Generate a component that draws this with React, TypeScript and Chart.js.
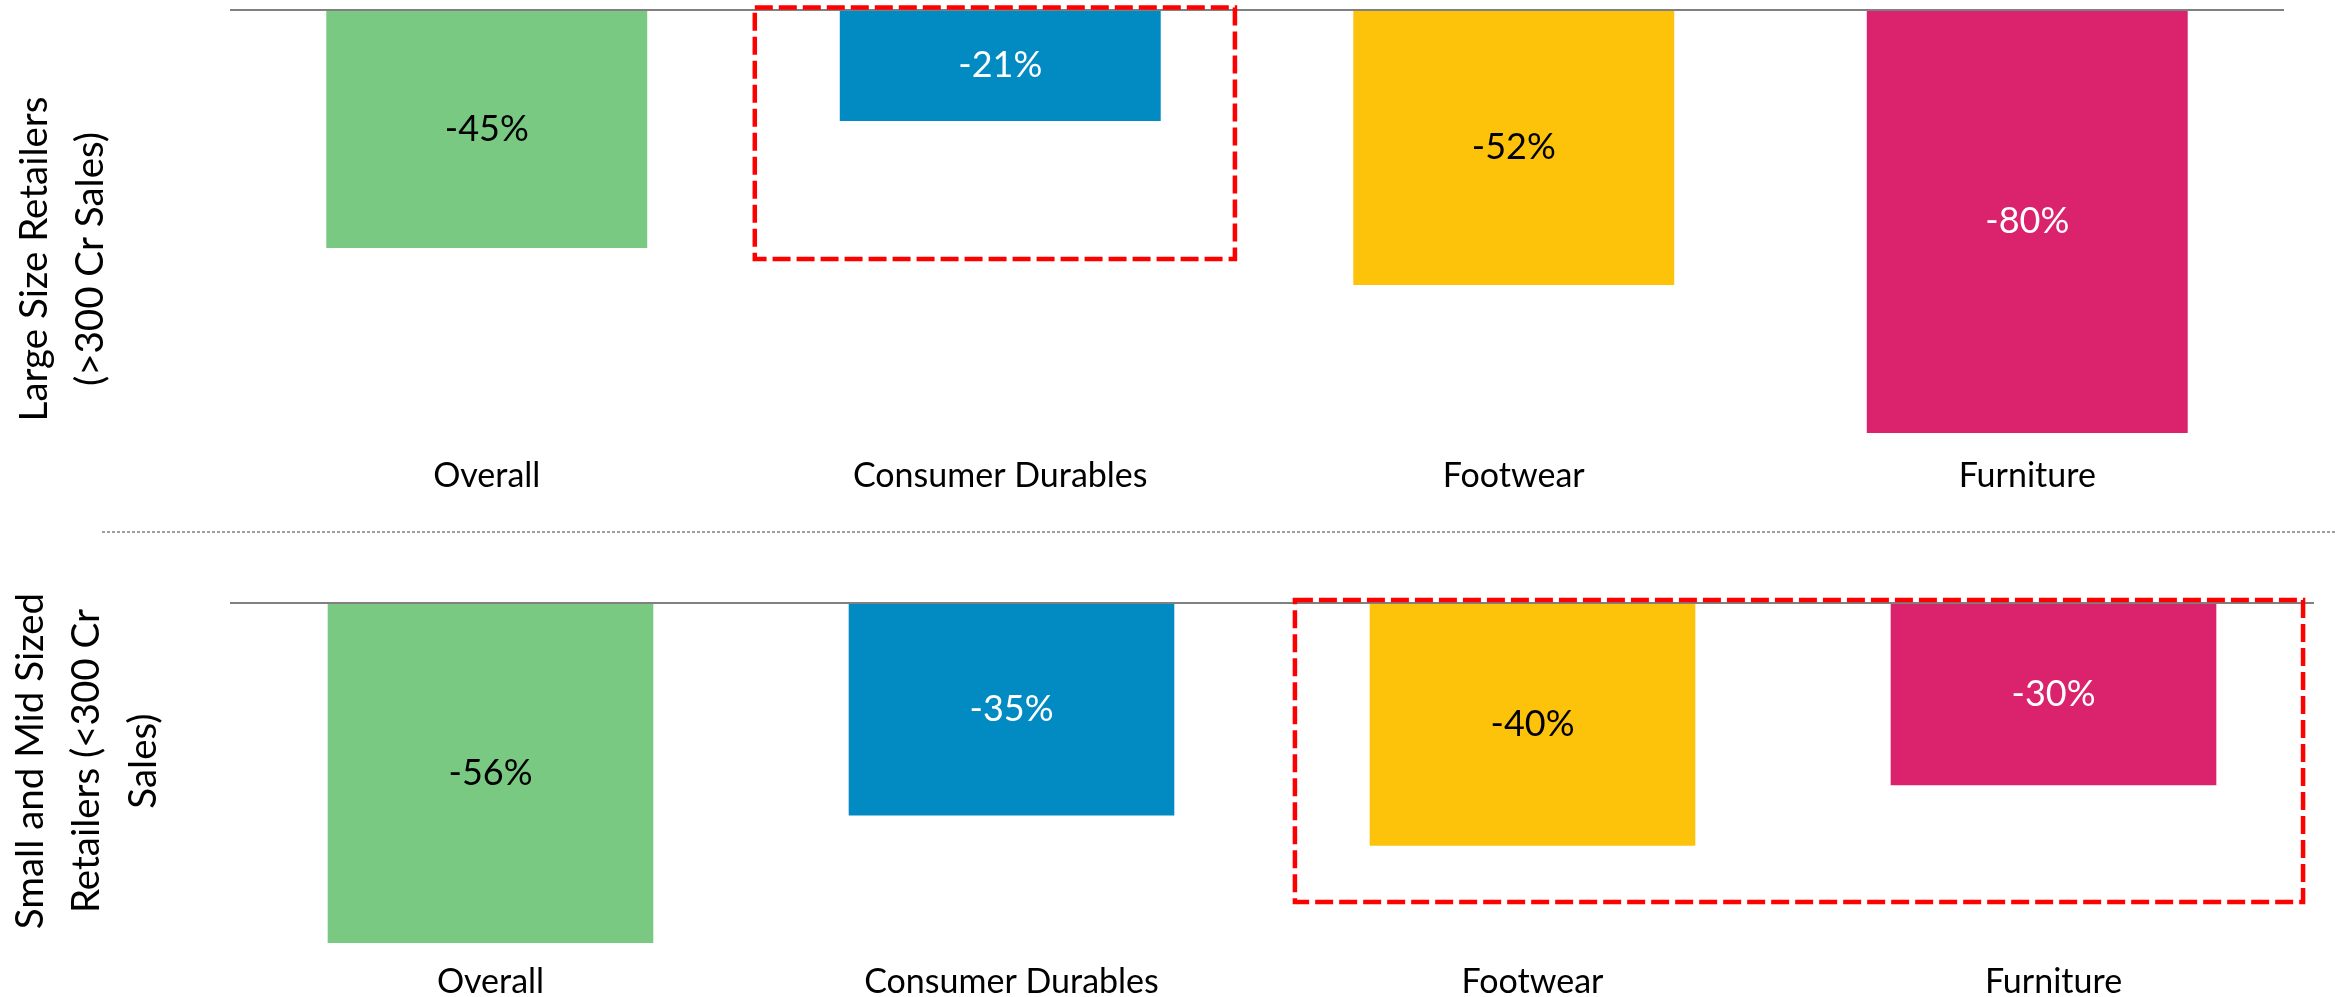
import React, { useEffect, useRef } from "react";
import { Chart, registerables } from "chart.js";

Chart.register(...registerables);

// ---------- data ----------
const CATEGORIES = ["Overall", "Consumer Durables", "Footwear", "Furniture"];
const LARGE_VALUES = [-45, -21, -52, -80];
const SMALL_VALUES = [-56, -35, -40, -30];
const BAR_COLORS = ["#79C982", "#028AC2", "#FDC30B", "#DA226D"];
const LABEL_COLORS = ["#000000", "#FFFFFF", "#000000", "#FFFFFF"];
const LARGE_TITLE = ["Large Size Retailers", "(>300 Cr Sales)"];
const SMALL_TITLE = ["Small and Mid Sized", "Retailers (<300 Cr", "Sales)"];
// highlight boxes in data units: [xFrom, xTo, yTop, yBottom]
const LARGE_HIGHLIGHT = [0.522, 1.457, 0.47, -47.1];
const SMALL_HIGHLIGHT = [1.544, 3.479, 0.49, -49.25];
const LARGE_MIN = -80;
const SMALL_MIN = -56;

const FONT = "Lato, 'Open Sans', sans-serif";

type PanelOpts = {
  title: string[];
  titleBaselines: number[];
  titleCenterY: number;
  highlight: number[];
  divider?: { y: number; x0: number };
};

function makePlugin(o: PanelOpts) {
  return {
    id: "panelDecor",
    afterDatasetsDraw(chart: any) {
      const ctx = chart.ctx;
      const xs = chart.scales.x;
      const ys = chart.scales.y;
      const area = chart.chartArea;
      const meta = chart.getDatasetMeta(0);
      const ds = chart.data.datasets[0];
      // value labels
      ctx.save();
      ctx.font = `36px ${FONT}`;
      ctx.textAlign = "center";
      ctx.textBaseline = "middle";
      meta.data.forEach((bar: any, i: number) => {
        const v = ds.data[i] as number;
        ctx.fillStyle = LABEL_COLORS[i];
        ctx.fillText(`${v}%`, bar.x, (bar.y + bar.base) / 2);
      });
      ctx.restore();
      // zero line
      const y0 = ys.getPixelForValue(0);
      ctx.save();
      ctx.strokeStyle = "#808080";
      ctx.lineWidth = 2;
      ctx.beginPath();
      ctx.moveTo(area.left, y0);
      ctx.lineTo(area.right, y0);
      ctx.stroke();
      ctx.restore();
      // highlight box
      const [x0v, x1v, ytv, ybv] = o.highlight;
      const toX = (v: number) => {
        const base = Math.floor(v);
        const frac = v - base;
        const a = xs.getPixelForValue(base);
        const b = xs.getPixelForValue(base + 1);
        return a + (b - a) * frac;
      };
      const bx0 = toX(x0v);
      const bx1 = toX(x1v);
      const by0 = ys.getPixelForValue(ytv);
      const by1 = ys.getPixelForValue(ybv);
      ctx.save();
      ctx.strokeStyle = "#FF0000";
      ctx.lineWidth = 4.5;
      ctx.setLineDash([18, 6]);
      ctx.strokeRect(bx0, by0, bx1 - bx0, by1 - by0);
      ctx.restore();
      // rotated title
      ctx.save();
      ctx.font = `38.5px ${FONT}`;
      ctx.fillStyle = "#000";
      ctx.textAlign = "center";
      ctx.textBaseline = "alphabetic";
      o.title.forEach((line, i) => {
        ctx.save();
        ctx.translate(o.titleBaselines[i], o.titleCenterY);
        ctx.rotate(-Math.PI / 2);
        ctx.fillText(line, 0, 0);
        ctx.restore();
      });
      ctx.restore();
      // divider
      if (o.divider) {
        ctx.save();
        ctx.strokeStyle = "#808080";
        ctx.lineWidth = 1.5;
        ctx.setLineDash([3, 2]);
        ctx.beginPath();
        ctx.moveTo(o.divider.x0, o.divider.y);
        ctx.lineTo(chart.width, o.divider.y);
        ctx.stroke();
        ctx.restore();
      }
    },
  };
}

function makeConfig(
  values: number[],
  min: number,
  padding: any,
  axisHeight: number,
  tickPad: number,
  plugin: any
) {
  return {
    type: "bar" as const,
    data: {
      labels: CATEGORIES,
      datasets: [
        {
          data: values,
          backgroundColor: BAR_COLORS,
          borderWidth: 0,
          categoryPercentage: 1,
          barPercentage: 0.625,
        },
      ],
    },
    options: {
      animation: false as const,
      responsive: false,
      maintainAspectRatio: false,
      layout: { padding },
      plugins: { legend: { display: false }, tooltip: { enabled: false } },
      scales: {
        x: {
          grid: { display: false },
          border: { display: false },
          ticks: {
            color: "#000",
            font: { family: FONT, size: 34 },
            padding: tickPad,
            maxRotation: 0,
            autoSkip: false,
          },
          afterFit: (s: any) => {
            s.height = axisHeight;
          },
        },
        y: { display: false, min, max: 0 },
      },
    },
    plugins: [plugin],
  };
}

export default function App() {
  const c1 = useRef<HTMLCanvasElement>(null);
  const c2 = useRef<HTMLCanvasElement>(null);

  useEffect(() => {
    document.body.style.margin = "0";
    const ch1 = new Chart(
      c1.current!,
      makeConfig(
        LARGE_VALUES,
        LARGE_MIN,
        { left: 230, right: 51, top: 10, bottom: 0 },
        67,
        15,
        makePlugin({
          title: LARGE_TITLE,
          titleBaselines: [47, 103],
          titleCenterY: 259,
          highlight: LARGE_HIGHLIGHT,
        })
      ) as any
    );
    const ch2 = new Chart(
      c2.current!,
      makeConfig(
        SMALL_VALUES,
        SMALL_MIN,
        { left: 230, right: 21, top: 103, bottom: 0 },
        54,
        11,
        makePlugin({
          title: SMALL_TITLE,
          titleBaselines: [43, 99, 156],
          titleCenterY: 261,
          highlight: SMALL_HIGHLIGHT,
          divider: { y: 32, x0: 102 },
        })
      ) as any
    );
    return () => {
      ch1.destroy();
      ch2.destroy();
    };
  }, []);

  return (
    <div style={{ position: "relative", width: 2335, height: 997, background: "#fff" }}>
      <canvas
        ref={c1}
        width={2335}
        height={500}
        style={{ position: "absolute", left: 0, top: 0, width: 2335, height: 500 }}
      />
      <canvas
        ref={c2}
        width={2335}
        height={497}
        style={{ position: "absolute", left: 0, top: 500, width: 2335, height: 497 }}
      />
    </div>
  );
}
